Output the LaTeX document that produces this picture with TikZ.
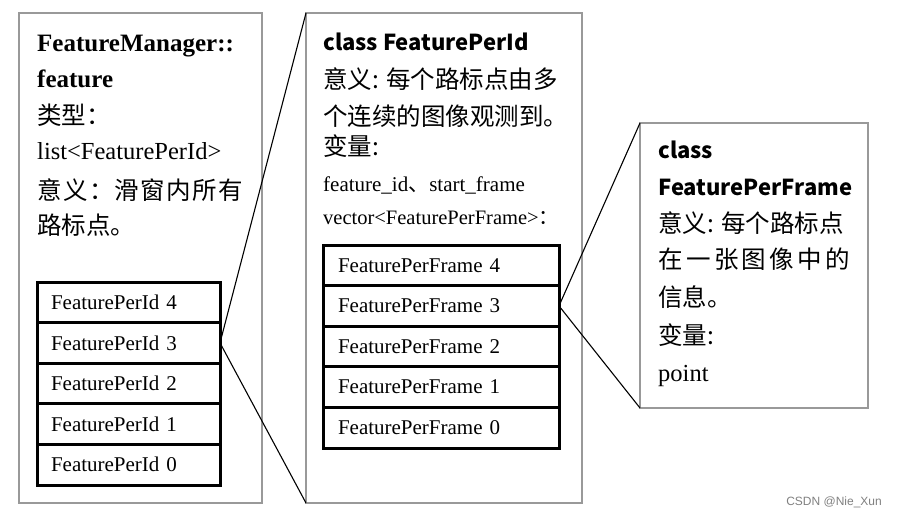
\documentclass[tikz,border=0pt]{standalone}
\usepackage{fontspec}
\setmainfont{Liberation Serif}
\newfontfamily\cjk{Noto Sans CJK SC}
\newfontfamily\markfont{Liberation Sans}
\usetikzlibrary{positioning}

\newcommand\hdserif{\bfseries\fontsize{25}{30}\selectfont}
\newcommand\hdsans{\cjk\bfseries\fontsize{22}{28}\selectfont}
\newcommand\cjktext{\cjk\fontsize{24.5}{30}\selectfont}
\newcommand\bodyserif{\fontsize{24.5}{30}\selectfont}
\newcommand\smallserif{\fontsize{21}{25}\selectfont}

\tikzset{
  panel/.style={draw=black!40, line width=1.2pt, outer sep=0pt, inner sep=0pt, anchor=north west},
  listrow/.style={draw, line width=3pt, outer sep=0pt, inner xsep=14pt, inner ysep=0pt,
    minimum height=40.6pt, align=left, font=\smallserif},
  idrow/.style={listrow, text width=155pt, minimum width=183pt},
  framerow/.style={listrow, inner xsep=15pt, text width=206pt, minimum width=236pt},
  txt/.style={anchor=base west, inner sep=0pt},
  link/.style={line width=1.1pt}
}

\begin{document}
\begin{tikzpicture}[x=1pt, y=-1pt]
  \useasboundingbox (0,0) rectangle (897,516);

  % the three panels
  \node[panel, minimum width=243pt, minimum height=490pt] (mgr) at (19,13) {};
  \node[panel, minimum width=276pt, minimum height=490pt] (perid) at (306,13) {};
  \node[panel, minimum width=228pt, minimum height=285pt] (perframe) at (640,123) {};

  % FeatureManager::feature
  \node[txt, font=\hdserif] (mgrname) at (37,52) {FeatureManager::};
  \node[txt, font=\hdserif] (mgrfeat) at (37,88) {feature};
  \node[txt, font=\cjktext] (mgrtype) at (37,125) {类型：};
  \node[txt, font=\bodyserif] (mgrlist) at (37,160) {list<FeaturePerId>};
  \node[txt, font=\cjktext] (mgrmean) at (37,199)
    {\makebox[206pt][s]{意\hfill 义\hfill ：\hfill 滑\hfill 窗\hfill 内\hfill 所\hfill 有}};
  \node[txt, font=\cjktext] (mgrmean2) at (37,234) {路标点。};

  \node[idrow, anchor=north west] (id4) at (37,282) {FeaturePerId 4};
  \node[idrow, below=0pt of id4] (id3) {FeaturePerId 3};
  \node[idrow, below=0pt of id3] (id2) {FeaturePerId 2};
  \node[idrow, below=0pt of id2] (id1) {FeaturePerId 1};
  \node[idrow, below=0pt of id1] (id0) {FeaturePerId 0};

  % class FeaturePerId
  \node[txt, font=\hdsans] (idname) at (323,51) {class FeaturePerId};
  \node[txt, font=\cjktext] (idmean) at (323,89) {意义: 每个路标点由多};
  \node[txt, font=\cjktext] (idmean2) at (323,126) {个连续的图像观测到。};
  \node[txt, font=\cjktext] (idvar) at (323,156) {变量:};
  \node[txt, font=\smallserif] (idvars) at (323,191) {feature\_id{\cjk 、}start\_frame};
  \node[txt, font=\fontsize{20.5}{25}\selectfont] (idvec) at (323,224)
    {vector<FeaturePerFrame>{\cjk ：}};

  \node[framerow, anchor=north west] (fr4) at (323,245) {FeaturePerFrame 4};
  \node[framerow, below=0pt of fr4] (fr3) {FeaturePerFrame 3};
  \node[framerow, below=0pt of fr3] (fr2) {FeaturePerFrame 2};
  \node[framerow, below=0pt of fr2] (fr1) {FeaturePerFrame 1};
  \node[framerow, below=0pt of fr1] (fr0) {FeaturePerFrame 0};

  % class FeaturePerFrame
  \node[txt, font=\hdsans] (frcls) at (658,159) {class};
  \node[txt, font=\hdsans] (frname) at (658,195) {FeaturePerFrame};
  \node[txt, font=\cjktext] (frmean) at (658,232) {意义: 每个路标点};
  \node[txt, font=\cjktext] (frmean2) at (658,268)
    {\makebox[192pt][s]{在\hfill 一\hfill 张\hfill 图\hfill 像\hfill 中\hfill 的}};
  \node[txt, font=\cjktext] (frmean3) at (658,306) {信息。};
  \node[txt, font=\cjktext] (frvar) at (658,344) {变量:};
  \node[txt, font=\bodyserif] (frpoint) at (658,381) {point};

  % zoom lines
  \draw[link] (id3.east) -- (perid.north west);
  \draw[link] (id3.east) -- (perid.south west);
  \draw[link] (fr3.east) -- (perframe.north west);
  \draw[link] (fr3.east) -- (perframe.south west);

  \node[anchor=base east, inner sep=0pt, text=black!50, font=\markfont\fontsize{12}{14}\selectfont]
    (mark) at (882,505) {CSDN @Nie\_Xun};
\end{tikzpicture}
\end{document}
